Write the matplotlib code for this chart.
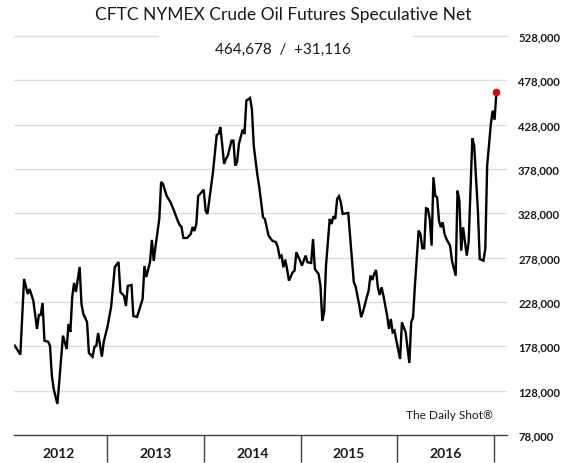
import matplotlib
matplotlib.use("Agg")
import matplotlib.pyplot as plt
import pandas as pd
import numpy as np

# ---- data (weeks since 2012-01-03, values in thousands of contracts) ----
weeks = [2, 5, 7, 9, 10, 12, 14, 15, 16, 17, 18, 20, 21, 22, 23, 25, 26, 28, 30, 31,
         32, 33, 34, 35, 37, 38, 39, 41, 42, 44, 45, 46, 47, 49, 50, 52, 54, 56, 58, 59,
         61, 62, 63, 65, 66, 68, 71, 72, 73, 75, 76, 77, 78, 80, 81, 82, 84, 85, 86, 88,
         90, 91, 92, 93, 95, 97, 98, 99, 100, 101, 102, 104, 105, 106, 108, 109, 111, 112, 113, 115,
         116, 117, 119, 120, 121, 122, 123, 125, 126, 127, 129, 130, 131, 133, 134, 136, 137, 139, 141, 143,
         144, 145, 146, 147, 148, 149, 150, 152, 153, 154, 156, 157, 159, 160, 162, 163, 164, 166, 167, 168,
         169, 170, 172, 173, 174, 175, 176, 177, 178, 179, 182, 184, 185, 186, 188, 189, 190, 192, 193, 194,
         195, 196, 197, 198, 199, 200, 201, 203, 204, 205, 206, 207, 208, 210, 211, 213, 215, 216, 217, 218,
         219, 220, 221, 222, 223, 224, 225, 226, 227, 228, 229, 230, 231, 232, 233, 234, 235, 237, 238, 240,
         241, 242, 243, 244, 246, 247, 249, 250, 252, 253, 255, 256, 257, 259, 260, 261, 262]
values = [178.7, 168.6, 254.0, 237.0, 242.7, 229.5, 197.6, 213.4, 213.4, 226.9, 184.4, 183.2, 178.7, 144.9, 129.9, 113.0, 137.8, 190.0, 175.0, 203.2,
          194.2, 233.7, 249.5, 239.3, 267.5, 225.8, 214.5, 205.5, 170.5, 166.3, 177.3, 178.7, 193.0, 166.3, 182.9, 199.8, 222.4, 267.5, 273.1, 239.3,
          234.8, 223.5, 246.1, 247.2, 212.2, 211.1, 231.4, 268.6, 256.2, 273.1, 298.0, 274.3, 291.2, 321.6, 363.4, 361.1, 347.6, 344.2, 340.8, 330.7,
          319.4, 314.9, 312.6, 300.2, 300.2, 304.7, 312.6, 308.1, 316.0, 347.6, 349.8, 354.7, 331.0, 327.3, 359.2, 374.7, 416.4, 417.5, 425.4, 383.7,
          389.3, 393.1, 410.0, 410.0, 381.8, 385.9, 406.2, 422.4, 417.5, 455.1, 458.1, 445.7, 404.3, 370.5, 357.4, 323.6, 321.6, 302.8, 297.2, 295.4,
          289.7, 278.4, 280.3, 267.2, 275.7, 265.2, 252.0, 261.5, 263.3, 284.1, 274.6, 269.0, 280.3, 272.8, 272.0, 299.1, 265.2, 259.6, 246.4, 206.9,
          216.4, 269.0, 321.6, 316.0, 324.7, 321.6, 344.2, 347.3, 340.5, 327.3, 328.4, 276.5, 250.6, 245.5, 223.9, 210.8, 217.1, 233.3, 240.8, 257.9,
          252.8, 259.6, 264.1, 244.6, 235.9, 244.6, 235.1, 212.6, 197.6, 208.8, 193.8, 195.7, 184.4, 163.7, 205.1, 193.8, 159.2, 205.1, 210.8, 246.4,
          278.4, 308.5, 304.7, 288.6, 288.6, 333.7, 332.9, 321.6, 291.5, 368.7, 347.6, 346.1, 319.7, 312.3, 317.9, 304.7, 299.1, 291.5, 274.6, 257.7,
          353.6, 342.3, 285.9, 312.3, 280.3, 295.4, 412.7, 404.3, 331.0, 276.5, 274.6, 287.8, 381.8, 428.8, 443.8, 433.562, 464.678]

year_labels = ["2012", "2013", "2014", "2015", "2016"]
y_ticks = [78000, 128000, 178000, 228000, 278000, 328000, 378000, 428000, 478000, 528000]
title = "CFTC NYMEX Crude Oil Futures Speculative Net"
subtitle = "464,678  /  +31,116"
source = "The Daily Shot\u00ae"

# ---- figure ----
W, H = 571, 464
fig = plt.figure(figsize=(W / 100, H / 100), dpi=100)
fig.patch.set_facecolor("white")
FONT = "Lato"

ax_l, ax_r, ax_t, ax_b = 14, 507, 37, 436
ax = fig.add_axes([ax_l / W, (H - ax_b) / H, (ax_r - ax_l) / W, (ax_b - ax_t) / H])

dates = pd.Timestamp("2012-01-03") + pd.to_timedelta(np.array(weeks) * 7, unit="D")
vals = np.array(values) * 1000

ax.plot(dates, vals, color="black", lw=1.7, solid_joinstyle="miter", zorder=3)
ax.plot(dates[-1], vals[-1], "o", color="#e0000f", ms=5.5, mec="none", zorder=4)

ax.set_ylim(y_ticks[0], y_ticks[-1])
ax.set_xlim(pd.Timestamp("2012-01-14"), pd.Timestamp("2017-02-19"))

# gridlines
for v in y_ticks[1:-1]:
    ax.axhline(v, color="#dcdcdc", lw=1.0, zorder=1)
gap_l = (158 - ax_l) / (ax_r - ax_l)
gap_r = (413 - ax_l) / (ax_r - ax_l)
ax.axhline(y_ticks[-1], xmin=0, xmax=gap_l, color="#dcdcdc", lw=1.0, zorder=1, clip_on=False)
ax.axhline(y_ticks[-1], xmin=gap_r, xmax=1, color="#dcdcdc", lw=1.0, zorder=1, clip_on=False)

for s in ["top", "left", "right"]:
    ax.spines[s].set_visible(False)
ax.spines["bottom"].set_color("#404040")
ax.spines["bottom"].set_linewidth(1.0)

# y axis on right
ax.yaxis.tick_right()
ax.set_yticks(y_ticks)
ax.set_yticklabels([f"{v:,}" for v in y_ticks], fontfamily=FONT, fontweight="bold", fontsize=8.2, color="#1a1a1a")
ax.tick_params(axis="y", length=0, pad=8)

# x axis: separators at year boundaries, labels at mid-year
sep = [pd.Timestamp(f"{y}-01-01") for y in range(2013, 2018)]
mids = [pd.Timestamp(f"{y}-07-02") for y in year_labels]
ax.set_xticks(sep)
ax.set_xticklabels([""] * len(sep))
ax.tick_params(axis="x", which="major", length=19.5, width=1.0, color="#404040", direction="out")
ax.set_xticks(mids, minor=True)
ax.set_xticklabels(year_labels, minor=True, fontfamily=FONT, fontweight="bold", fontsize=10, color="#1a1a1a")
ax.tick_params(axis="x", which="minor", length=0, pad=9)

fig.text(283 / W, 1 - 15 / H, title, ha="center", va="center", fontfamily=FONT, fontsize=12.5, color="#1a1a1a")
fig.text(283 / W, 1 - 50 / H, subtitle, ha="center", va="center", fontfamily=FONT, fontsize=11, color="#1a1a1a")
fig.text(493 / W, 1 - 416 / H, source, ha="right", va="center", fontfamily=FONT, fontsize=8.6, color="#1a1a1a")

fig.savefig("out.png", dpi=100)
